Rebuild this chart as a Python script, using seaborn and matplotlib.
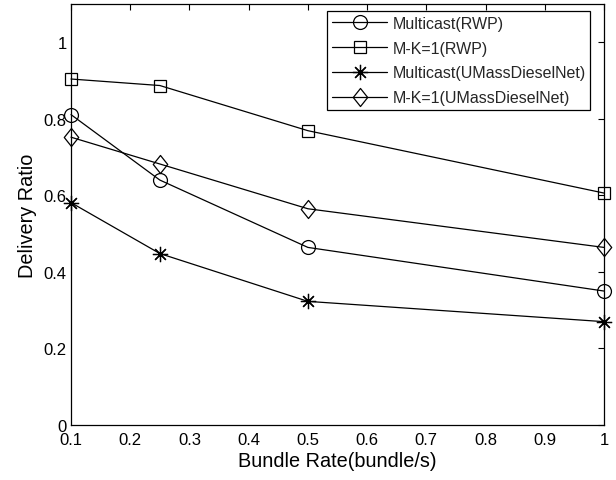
import numpy as np
import pandas as pd
import matplotlib
matplotlib.use("Agg")
import matplotlib.pyplot as plt
import seaborn as sns
from matplotlib.path import Path

# ---- data ----
rates = [0.1, 0.25, 0.5, 1.0]
multicast_rwp = [0.811, 0.640, 0.464, 0.350]
mk1_rwp = [0.904, 0.887, 0.769, 0.606]
multicast_umass = [0.581, 0.448, 0.323, 0.270]
mk1_umass = [0.752, 0.682, 0.565, 0.464]
series_names = ["Multicast(RWP)", "M-K=1(RWP)", "Multicast(UMassDieselNet)", "M-K=1(UMassDieselNet)"]
x_ticks = [0.1, 0.2, 0.3, 0.4, 0.5, 0.6, 0.7, 0.8, 0.9, 1.0]
x_tick_labels = ["0.1", "0.2", "0.3", "0.4", "0.5", "0.6", "0.7", "0.8", "0.9", "1"]
y_ticks = [0, 0.2, 0.4, 0.6, 0.8, 1.0]
y_tick_labels = ["0", "0.2", "0.4", "0.6", "0.8", "1"]

sns.set_theme(style="white")
plt.rcParams['font.family'] = ['Liberation Sans', 'DejaVu Sans']

fig = plt.figure(figsize=(6.16, 4.81), dpi=100)
ax = fig.add_axes([71/616, 1 - 426/481, (604 - 71)/616, (426 - 5)/481])

tall_diamond = Path([(0, 1), (0.8, 0), (0, -1), (-0.8, 0), (0, 1)],
                    [Path.MOVETO, Path.LINETO, Path.LINETO, Path.LINETO, Path.CLOSEPOLY])
styles = [
    dict(marker="o", ms=10),
    dict(marker="s", ms=9),
    dict(marker=(8, 2, 0), ms=11),
    dict(marker=tall_diamond, ms=13),
]
values = [multicast_rwp, mk1_rwp, multicast_umass, mk1_umass]

for name, vals, st in zip(series_names, values, styles):
    df = pd.DataFrame({"rate": rates, "ratio": vals})
    sns.lineplot(data=df, x="rate", y="ratio", ax=ax, color="black", lw=0.9,
                 marker=st["marker"], markersize=st["ms"], markerfacecolor="none",
                 markeredgecolor="black", markeredgewidth=0.9, label=name,
                 clip_on=False, zorder=3)

ax.set_xlim(0.1, 1.0)
ax.set_ylim(0, 1.1)
ax.set_xticks(x_ticks)
ax.set_xticklabels(x_tick_labels)
ax.set_yticks(y_ticks)
ax.set_yticklabels(y_tick_labels)
ax.tick_params(direction="in", length=4, width=0.8, top=True, right=True,
               labelsize=12, colors="black")
ax.tick_params(axis="x", pad=5)
ax.tick_params(axis="y", pad=3)
for s in ax.spines.values():
    s.set_visible(True)
    s.set_color("black")
    s.set_linewidth(0.9)
ax.set_xlabel("Bundle Rate(bundle/s)", fontsize=14.3, labelpad=3, color="black")
ax.set_ylabel("Delivery Ratio", fontsize=14.3, labelpad=5, color="black")
ax.grid(False)

leg = ax.legend(loc="upper right", bbox_to_anchor=(0.9737, 0.983), fontsize=11.5,
                frameon=True, fancybox=False, edgecolor="black", framealpha=1,
                handlelength=3.5, borderpad=0.28, labelspacing=0.62, handletextpad=0.3,
                borderaxespad=0)
leg.get_frame().set_linewidth(0.9)
leg.set_zorder(5)

fig.savefig("out.png", dpi=100, facecolor="white")
